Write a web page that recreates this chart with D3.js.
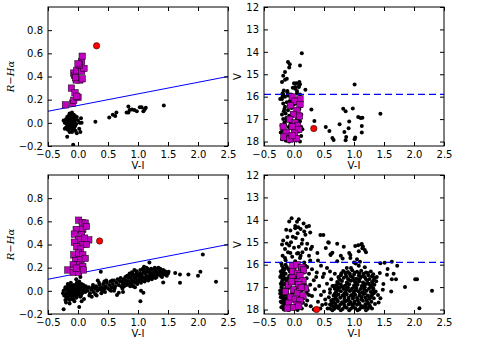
<!DOCTYPE html>
<html>
<head>
<meta charset="utf-8">
<script src="https://cdn.jsdelivr.net/npm/d3@7"></script>
<style>
body { margin: 0; background: #fff; }
svg { display: block; font-family: "DejaVu Sans", sans-serif; }
</style>
</head>
<body>
<svg id="chart" width="479" height="346"></svg>
<script>
// ---------------- data ----------------
const viTicks = [-0.5, 0.0, 0.5, 1.0, 1.5, 2.0, 2.5];
const rhaTicks = [-0.2, 0.0, 0.2, 0.4, 0.6, 0.8];
const vTicks = [12, 13, 14, 15, 16, 17, 18];
const cutLineVI = [-0.5, 2.5];
const cutLineRHA = [0.1, 0.4];
const vLimit = 15.9;

// top row: [V-I, R-Halpha]
const topColourStars = [
  [-0.15,0.0],[-0.12,0.02],[-0.18,0.01],[-0.1,-0.02],[-0.14,-0.04],[-0.2,0.03],[-0.08,0.05],[-0.13,0.06],
  [-0.16,-0.02],[-0.11,0.0],[-0.09,-0.05],[-0.17,-0.06],[-0.12,-0.07],[-0.06,0.01],[-0.05,-0.03],[-0.19,-0.01],
  [-0.14,0.08],[-0.1,0.09],[-0.07,0.07],[-0.22,0.0],[-0.15,0.04],[-0.12,0.04],[-0.08,0.02],[-0.04,0.03],
  [-0.16,0.06],[-0.13,-0.01],[-0.1,-0.08],[-0.06,-0.06],[-0.2,-0.04],[-0.11,0.07],[-0.03,-0.01],[-0.02,0.05],
  [0.0,0.02],[-0.09,0.03],[-0.14,-0.08],[-0.07,-0.03],[-0.17,0.02],[-0.12,-0.04],[-0.05,0.06],[-0.15,-0.05],
  [-0.18,0.05],[-0.1,0.05],[-0.08,-0.01],[0.02,-0.05],[0.03,0.0],[-0.04,-0.07],[-0.13,0.01],[-0.11,-0.03],
  [-0.06,0.04],[-0.16,0.0],[-0.18,-0.12],[-0.08,-0.19],[0.06,0.0],[0.29,0.01],[0.52,0.046],[0.58,0.07],
  [-0.24,0.02],[-0.22,-0.05],[0.05,0.04],[0.04,-0.08],[-0.02,-0.09],
  [0.62,0.06],[0.64,0.09],[0.81,0.09],[0.84,0.14],[0.86,0.11],[0.9,0.115],[0.84,0.09],[0.94,0.11],
  [0.98,0.1],[1.03,0.135],[1.06,0.135],[1.09,0.1],[1.13,0.13],[1.11,0.115],[1.43,0.15]
];
const topColourEm = [
  [-0.21,0.155],[-0.09,0.17],[-0.07,0.195],[-0.11,0.3],[-0.05,0.26],[0.0,0.22],[-0.02,0.23],[-0.07,0.43],
  [-0.06,0.41],[0.03,0.37],[-0.03,0.37],[-0.02,0.45],[0.06,0.445],[0.06,0.53],[0.07,0.575],[0.1,0.47],
  [0.02,0.5],[-0.04,0.39],[0.07,0.38],[0.0,0.51]
];
const topColourTarget = [[0.31, 0.665]];

// top row: [V-I, V]
const topMagStars = [
  [0.13,14.06],[0.1,14.61],[-0.1,14.45],[-0.07,14.55],[-0.08,14.7],[-0.15,14.9],[-0.18,15.07],[-0.12,15.2],
  [-0.15,15.25],[0.0,15.4],[0.04,15.4],[0.09,15.35],[0.02,15.57],[0.08,15.57],[0.19,15.69],[-0.17,15.72],
  [-0.11,15.8],[-0.18,15.9],[-0.23,16.1],[-0.19,15.98],[0.1,15.45],[-0.02,15.6],[0.05,15.75],[-0.2,15.35],
  [-0.2,16.1],[-0.15,16.0],[-0.1,15.95],[-0.05,15.9],[0.05,15.85],[0.1,15.9],[-0.18,16.3],[-0.12,16.25],
  [-0.08,16.4],[0.0,16.35],[0.06,16.3],[-0.16,16.55],[-0.1,16.6],[-0.04,16.5],[0.03,16.6],[0.09,16.55],
  [-0.2,16.8],[-0.14,16.75],[-0.08,16.85],[0.12,16.8],[-0.18,17.0],[-0.12,17.05],[-0.06,17.1],[0.05,17.0],
  [0.1,17.1],[-0.21,17.3],[-0.15,17.25],[-0.09,17.35],[0.03,17.3],[0.12,17.35],[-0.19,17.5],[-0.13,17.55],
  [-0.02,17.45],[0.08,17.55],[0.14,17.45],[-0.17,17.75],[-0.11,17.8],[-0.05,17.7],[0.05,17.8],[0.12,17.75],
  [-0.14,17.95],[-0.08,18.0],[-0.02,17.9],[0.04,17.95],[0.1,18.0],[-0.22,17.6],[-0.16,17.15],[-0.13,16.95],
  [-0.07,16.2],[0.0,16.1],[-0.11,15.75],[0.02,15.65],[0.08,15.55],[-0.19,15.85],[-0.03,16.75],[0.07,16.95],
  [-0.1,17.65],[0.01,17.6],[-0.06,17.25],[-0.15,16.45],[0.11,16.4],[-0.2,17.9],[0.0,17.15],[-0.17,16.65],
  [-0.09,17.95],[0.06,16.1],
  [0.29,16.57],[0.34,17.09],[0.53,17.35],[0.59,17.53],[0.64,17.84],[0.66,17.93],[0.82,16.54],[0.86,16.65],
  [0.98,16.53],[0.92,17.11],[0.76,17.23],[0.91,17.41],[0.84,17.58],[0.87,17.8],[0.86,17.94],[1.01,17.9],
  [1.02,17.82],[1.07,16.91],[1.11,16.95],[1.14,16.94],[1.13,17.31],[1.13,17.6],[1.01,15.46],[1.44,16.76]
];
const topMagEm = [
  [-0.03,16.01],[0.1,16.1],[0.01,16.2],[0.1,16.35],[-0.06,16.39],[0.05,16.61],[-0.01,16.79],[0.09,16.87],
  [-0.07,17.01],[0.02,17.16],[0.06,17.28],[-0.03,17.34],[-0.18,17.34],[0.08,17.46],[-0.13,17.6],[0.01,17.63],
  [-0.17,17.8],[-0.07,17.9],[0.04,17.87],[-0.03,17.73]
];
const topMagTarget = [[0.33, 17.42]];

// bottom row: [V-I, R-Halpha]
const bottomColourStars = [
  [-0.25,-0.02],[-0.22,0.01],[-0.2,-0.05],[-0.18,0.03],[-0.17,-0.01],[-0.16,-0.07],[-0.15,0.05],[-0.14,0.0],
  [-0.13,-0.03],[-0.12,0.02],[-0.11,-0.06],[-0.1,0.04],[-0.09,-0.01],[-0.08,0.01],[-0.07,-0.04],[-0.06,0.03],
  [-0.05,-0.02],[-0.04,0.05],[-0.03,0.0],[-0.02,-0.05],[-0.01,0.02],[0.0,-0.03],[0.01,0.06],[0.02,0.01],
  [0.03,-0.02],[0.04,0.03],[0.05,-0.04],[0.06,0.02],[0.08,0.0],[0.1,0.03],[0.12,-0.01],[0.14,0.02],
  [-0.23,-0.04],[-0.21,0.03],[-0.19,-0.02],[-0.17,0.06],[-0.15,-0.04],[-0.13,0.04],[-0.11,0.01],[-0.09,-0.04],
  [-0.07,0.02],[-0.05,0.0],[-0.03,-0.06],[-0.01,0.04],[0.01,-0.01],[0.03,0.03],[0.05,0.01],[0.07,-0.02],
  [0.09,0.05],[0.11,0.01],[0.13,0.04],[-0.24,0.0],[-0.2,0.02],[-0.16,0.01],[-0.12,-0.02],[-0.08,0.05],
  [-0.04,-0.03],[0.0,0.0],[0.04,-0.05],[0.08,0.04],[-0.18,-0.06],[-0.14,-0.08],[-0.1,-0.07],[-0.06,-0.09],
  [-0.02,0.07],[0.02,0.08],[-0.21,-0.08],[-0.12,0.07],[-0.08,-0.07],[0.0,0.05],[0.06,0.06],[-0.16,0.04],
  [-0.1,0.0],[-0.04,0.02],[0.02,-0.03],[-0.24,-0.16],[0.02,-0.14],[-0.14,-0.11],[-0.2,-0.1],[0.06,-0.09],
  [0.1,-0.07],[-0.03,0.1],[0.04,0.12],
  [0.16,0.0],[0.18,0.03],[0.2,-0.02],[0.22,0.01],[0.24,0.03],[0.26,-0.01],[0.28,0.02],[0.3,0.04],
  [0.32,0.0],[0.34,0.02],[0.36,0.05],[0.38,0.01],[0.4,0.03],[0.42,0.06],[0.44,0.02],[0.46,0.04],
  [0.48,0.07],[0.5,0.02],[0.52,0.05],[0.54,0.08],[0.56,0.03],[0.58,0.06],[0.6,0.09],[0.62,0.04],
  [0.64,0.07],[0.66,0.1],[0.68,0.05],[0.7,0.08],[0.19,-0.04],[0.25,0.05],[0.29,-0.03],[0.35,0.07],
  [0.41,0.0],[0.47,0.09],[0.53,0.01],[0.57,0.09],[0.61,0.02],[0.65,-0.035],[0.68,-0.017],[0.33,0.09],
  [0.38,0.164],[0.44,0.08],[0.23,-0.05],[0.31,-0.04],[0.39,-0.02],[0.55,0.0],[0.45,-0.01],[0.6,0.0],
  [0.72,0.04],[0.73,0.08],[0.71,0.11],[0.75,0.06],[0.76,0.1],[0.74,0.02],[0.78,0.07],[0.79,0.12],
  [0.77,0.04],[0.81,0.05],[0.8,0.09],[0.82,0.13],[0.84,0.08],[0.85,0.13],[0.83,0.06],[0.84,0.11],
  [0.87,0.07],[0.88,0.11],[0.86,0.15],[0.87,0.04],[0.9,0.09],[0.91,0.13],[0.89,0.06],[0.9,0.16],
  [0.93,0.08],[0.94,0.11],[0.92,0.14],[0.92,0.04],[0.96,0.1],[0.97,0.15],[0.95,0.07],[0.96,0.12],
  [0.99,0.09],[1.0,0.13],[0.98,0.17],[0.99,0.06],[1.02,0.11],[1.03,0.15],[1.01,0.08],[1.02,0.13],
  [1.05,0.1],[1.06,0.14],[1.04,0.18],[1.05,0.07],[1.08,0.12],[1.09,0.16],[1.07,0.09],[1.08,0.19],
  [1.11,0.11],[1.12,0.15],[1.1,0.18],[1.11,0.08],[1.14,0.13],[1.15,0.17],[1.13,0.1],[1.14,0.2],
  [1.17,0.12],[1.18,0.16],[1.16,0.19],[1.17,0.09],[1.2,0.14],[1.21,0.18],[1.19,0.11],[1.2,0.16],
  [1.23,0.12],[1.24,0.15],[1.22,0.19],[1.23,0.1],[1.26,0.14],[1.27,0.18],[1.25,0.12],[1.26,0.16],
  [1.29,0.13],[1.3,0.17],[1.28,0.2],[1.29,0.11],[1.32,0.15],[1.33,0.19],[1.31,0.12],[1.35,0.14],
  [1.36,0.17],[1.34,0.2],[1.38,0.13],[1.39,0.16],[1.37,0.19],[1.41,0.15],[1.42,0.18],[1.4,0.12],
  [1.44,0.14],[1.45,0.17],[1.47,0.16],[1.48,0.13],[1.5,0.15],
  [1.19,0.245],[1.1,0.207],[0.94,0.18],[1.04,-0.09],[1.05,0.0],[1.09,-0.017],[0.92,0.04],[1.42,0.072],
  [1.51,0.164],[1.62,0.155],[1.7,0.14],[1.84,0.14],[2.0,0.13],[2.04,0.165],[1.7,0.07],[2.08,0.313],
  [2.3,0.078],[0.75,-0.01],[0.95,0.03]
];
const bottomColourEm = [
  [0.01,0.61],[0.07,0.59],[0.12,0.585],[-0.03,0.53],[0.08,0.53],[0.14,0.556],[-0.06,0.49],[0.06,0.484],
  [0.18,0.44],[0.01,0.44],[0.11,0.455],[-0.06,0.42],[0.07,0.4],[0.14,0.4],[-0.02,0.38],[0.04,0.36],
  [-0.07,0.31],[0.01,0.326],[0.08,0.31],[-0.04,0.26],[0.05,0.268],[0.12,0.28],[0.0,0.225],[0.08,0.21],
  [-0.08,0.225],[-0.17,0.18],[-0.08,0.16],[0.01,0.16],[0.09,0.18],[-0.03,0.196]
];
const bottomColourTarget = [[0.36, 0.43]];

// bottom row: [V-I, V]
const bottomMagStars = [
  [-0.04,13.93],[0.08,13.97],[-0.08,14.07],[0.05,14.09],[0.16,14.16],[0.02,14.27],[0.07,14.33],[0.25,14.27],
  [0.21,14.31],[0.11,14.41],[-0.06,14.47],[0.17,14.52],[-0.13,14.44],[0.27,14.56],[0.02,14.38],[0.19,14.67],
  [-0.18,14.92],[-0.11,14.77],[0.03,14.81],[0.14,14.89],[0.13,15.07],[0.22,15.07],[-0.2,15.1],[-0.05,15.0],
  [0.08,15.2],[-0.15,15.3],[0.0,15.25],[0.2,15.3],[-0.1,15.45],[0.05,15.5],[0.14,15.45],[-0.19,15.6],
  [-0.03,15.65],[0.1,15.7],[0.25,15.6],[-0.14,15.8],[0.02,15.85],[-0.21,15.95],[0.17,15.9],[-0.08,15.15],
  [0.11,15.6],[-0.12,15.05],[0.3,15.2],[0.06,14.6],[-0.02,14.75],[-0.06,15.48],[0.07,15.48],[-0.15,15.7],
  [0.44,14.68],[0.49,14.68],[0.57,15.0],[0.72,15.07],[0.53,15.26],[0.39,15.48],[0.61,15.53],[0.28,15.3],
  [0.4,15.81],[0.78,15.6],[0.92,15.48],[0.94,15.7],[0.27,15.81],[0.72,15.85],[0.58,15.02],[0.83,15.2],
  [0.64,15.47],[0.61,15.57],[0.94,15.57],[0.81,15.72],
  [1.02,15.17],[1.07,15.13],[1.13,15.08],[1.14,15.27],[1.2,15.45],[1.05,15.76],[1.1,15.87],[1.15,15.2],
  [1.18,15.35],[1.08,15.4],[1.12,15.1],[1.0,15.9],
  [-0.22,16.3],[-0.2,16.05],[-0.18,16.5],[-0.16,16.2],[-0.14,16.4],[-0.12,16.1],[-0.1,16.6],[-0.2,16.75],
  [-0.17,16.9],[-0.13,16.7],[-0.21,17.0],[-0.15,17.1],[-0.11,16.95],[-0.19,17.25],[-0.16,17.35],[-0.12,17.2],
  [-0.22,17.45],[-0.18,17.55],[-0.14,17.5],[-0.1,17.4],[-0.2,17.7],[-0.16,17.8],[-0.12,17.65],[-0.08,17.75],
  [-0.21,17.9],[-0.17,18.0],[-0.13,17.95],[-0.09,18.02],[-0.05,17.85],[-0.23,17.15],[-0.19,16.65],[-0.15,16.85],
  [-0.11,17.6],[-0.07,16.3],[-0.05,16.8],[-0.03,17.3],[-0.01,16.45],[0.0,17.95],[0.03,17.05],[0.05,16.55],
  [0.08,17.7],[0.1,16.2],[0.12,17.15],[0.14,16.7],[0.16,17.5],[0.18,16.9],[0.2,17.8],[0.17,16.35],
  [0.13,17.95],[0.06,18.02],[-0.18,16.15],[-0.14,16.0],[-0.09,16.2],[-0.23,16.55],[-0.2,17.35],[-0.16,17.65],
  [-0.12,17.85],[-0.08,16.5],[-0.14,17.25],[-0.1,17.05],[-0.06,17.5],[-0.02,16.1],[0.02,16.65],[0.09,16.4],
  [0.19,16.05],[0.21,17.25],[0.15,17.7],[0.11,17.4],
  [-0.21,16.45],[-0.17,16.35],[-0.22,16.85],[-0.18,17.1],[-0.23,17.3],[-0.19,17.45],[-0.22,17.65],[-0.18,17.85],
  [-0.14,17.75],[-0.1,17.95],[-0.19,16.25],[-0.15,16.6],[-0.13,16.8],[-0.11,17.3],
  [0.22,16.1],[0.3,16.2],[0.45,16.05],[0.55,16.15],[0.25,16.4],[0.38,16.35],[0.6,16.3],[0.68,16.4],
  [0.21,16.6],[0.33,16.7],[0.48,16.55],[0.62,16.65],[0.27,16.9],[0.42,16.95],[0.55,16.85],[0.66,16.95],
  [0.23,17.15],[0.35,17.1],[0.5,17.2],[0.6,17.1],[0.3,17.4],[0.45,17.35],[0.58,17.45],[0.68,17.3],
  [0.22,17.6],[0.4,17.65],[0.52,17.55],[0.63,17.7],[0.28,17.85],[0.47,17.8],[0.56,17.95],[0.66,17.85],
  [0.33,18.0],[0.44,17.95],[0.25,17.35],[0.37,16.55],[0.5,16.4],[0.65,17.55],[0.6,17.95],[0.53,17.75],
  [0.82,16.28],[0.9,16.33],[0.97,16.25],[1.05,16.32],[1.12,16.27],[1.2,16.35],[1.28,16.3],
  [0.78,16.47],[0.86,16.42],[0.94,16.5],[1.0,16.44],[1.08,16.48],[1.16,16.41],[1.24,16.47],[1.32,16.43],
  [0.75,16.62],[0.83,16.58],[0.9,16.64],[0.98,16.57],[1.04,16.63],[1.1,16.6],[1.18,16.56],[1.26,16.64],[1.34,16.59],
  [0.72,16.77],[0.8,16.73],[0.88,16.79],[0.95,16.72],[1.02,16.78],[1.09,16.74],[1.15,16.8],[1.22,16.71],[1.3,16.77],[1.37,16.74],
  [0.7,16.92],[0.78,16.88],[0.85,16.94],[0.92,16.87],[1.0,16.93],[1.06,16.89],[1.13,16.95],[1.2,16.86],[1.27,16.92],[1.34,16.9],
  [0.68,17.07],[0.76,17.03],[0.83,17.08],[0.9,17.02],[0.97,17.06],[1.04,17.04],[1.11,17.09],[1.18,17.01],[1.25,17.07],[1.32,17.05],
  [0.7,17.22],[0.78,17.18],[0.86,17.23],[0.93,17.17],[1.0,17.21],[1.07,17.19],[1.14,17.24],[1.21,17.16],[1.28,17.22],[1.36,17.2],
  [0.66,17.37],[0.74,17.33],[0.81,17.38],[0.88,17.32],[0.95,17.36],[1.02,17.34],[1.09,17.39],[1.16,17.31],[1.23,17.37],[1.3,17.35],
  [0.69,17.52],[0.77,17.48],[0.84,17.53],[0.91,17.47],[0.98,17.51],[1.05,17.49],[1.12,17.54],[1.19,17.46],[1.26,17.52],[1.33,17.5],
  [0.66,17.67],[0.73,17.63],[0.8,17.68],[0.87,17.62],[0.94,17.66],[1.01,17.64],[1.08,17.69],[1.15,17.61],[1.22,17.67],[1.29,17.65],
  [0.7,17.82],[0.77,17.78],[0.84,17.83],[0.91,17.77],[0.98,17.81],[1.05,17.79],[1.12,17.84],[1.19,17.76],[1.26,17.82],
  [0.67,17.97],[0.74,17.93],[0.81,17.98],[0.88,17.92],[0.95,17.96],[1.02,17.94],[1.09,17.99],[1.16,17.91],[1.23,17.97],[1.3,17.95],
  [0.86,16.35],[1.01,16.36],[1.16,16.5],[0.92,16.68],[1.07,16.68],[1.24,16.84],[0.81,17.0],[0.95,17.12],
  [1.1,17.28],[1.25,17.42],[0.85,17.6],[1.0,17.72],[1.15,17.88],[0.75,17.88],[1.35,17.75],[0.62,17.6],
  [0.6,17.25],[0.64,16.95],[1.4,17.35],[1.38,16.55],[0.95,16.15],[1.08,16.05],[1.18,16.12],[1.03,15.95],[0.88,16.15],
  [0.79,16.38],[0.93,16.4],[1.09,16.38],[1.23,16.37],[0.74,16.55],[0.87,16.52],[1.13,16.53],[1.3,16.52],
  [0.77,16.68],[1.0,16.69],[1.2,16.65],[1.33,16.68],[0.74,16.85],[0.89,16.84],[1.04,16.84],[1.17,16.87],
  [1.31,16.85],[0.72,17.0],[0.87,16.98],[1.01,16.99],[1.15,17.0],[1.29,16.99],[0.73,17.13],[0.88,17.12],
  [1.03,17.13],[1.17,17.12],[1.32,17.13],[0.7,17.29],[0.84,17.28],[0.99,17.28],[1.18,17.28],[1.33,17.27],
  [0.7,17.42],[0.84,17.42],[0.99,17.43],[1.13,17.44],[1.28,17.43],[0.72,17.58],[0.91,17.57],[1.06,17.58],
  [1.21,17.58],[0.69,17.74],[0.83,17.73],[0.94,17.74],[1.09,17.74],[1.24,17.74],[0.71,17.9],[0.85,17.89],
  [0.98,17.89],[1.12,17.9],[1.2,17.88],[1.27,17.89],[0.63,17.82],[0.6,17.78],[0.64,18.03],[0.78,18.03],
  [0.92,18.03],[1.06,18.03],[1.2,18.03],
  [1.44,15.94],[1.51,15.91],[1.63,15.87],[1.72,16.05],[1.66,16.41],[1.63,16.65],[1.7,16.65],[2.02,16.65],
  [2.05,16.65],[1.85,17.0],[2.3,17.16],[1.62,17.2],[1.49,16.86],[1.48,17.12],[2.09,17.94],[1.41,17.69],
  [1.44,17.5],[1.43,16.37],[1.56,16.19],[1.55,16.45]
];
const bottomMagEm = [
  [-0.02,16.06],[0.05,16.01],[0.13,16.12],[0.16,16.24],[-0.02,16.31],[0.06,16.38],[0.1,16.5],[-0.03,16.6],
  [0.15,16.71],[0.02,16.76],[-0.09,16.9],[0.08,16.9],[0.19,17.05],[-0.01,17.12],[-0.14,17.2],[0.06,17.27],
  [0.15,17.39],[-0.06,17.45],[0.02,17.54],[0.1,17.6],[-0.09,17.72],[0.05,17.79],[-0.02,17.91],[0.08,17.85],
  [-0.11,17.94],[-0.04,16.76],[0.12,17.02]
];
const bottomMagTarget = [[0.375, 18.0]];

// ---------------- layout ----------------
const svg = d3.select("#chart");
const panelW = 180;
const panelH = 139;
const fmt1 = d3.format(".1f");

const panels = [
  {x0: 48, y0: 7, kind: "colour", stars: topColourStars, em: topColourEm, target: topColourTarget, xlabelY: 169},
  {x0: 264, y0: 7, kind: "mag", stars: topMagStars, em: topMagEm, target: topMagTarget, xlabelY: 169},
  {x0: 48, y0: 175, kind: "colour", stars: bottomColourStars, em: bottomColourEm, target: bottomColourTarget, xlabelY: 337},
  {x0: 264, y0: 175, kind: "mag", stars: bottomMagStars, em: bottomMagEm, target: bottomMagTarget, xlabelY: 337}
];

panels.forEach((p, i) => drawPanel(p, i));

function drawPanel(p, i){
  const x = d3.scaleLinear().domain([-0.5, 2.5]).range([p.x0, p.x0 + panelW]);
  const y = p.kind === "colour"
    ? d3.scaleLinear().domain([-0.2, 1.0]).range([p.y0 + panelH, p.y0])
    : d3.scaleLinear().domain([12, 18.2]).range([p.y0, p.y0 + panelH]);
  const yTicks = p.kind === "colour" ? rhaTicks : vTicks;
  const yFmt = p.kind === "colour" ? fmt1 : d3.format("d");

  const g = svg.append("g");
  svg.append("clipPath").attr("id", "clip" + i)
    .append("rect").attr("x", p.x0).attr("y", p.y0).attr("width", panelW).attr("height", panelH);
  const plot = g.append("g").attr("clip-path", `url(#clip${i})`);

  // stars
  plot.selectAll("circle.star").data(p.stars).join("circle")
    .attr("class", "star")
    .attr("cx", d => x(d[0]))
    .attr("cy", d => y(d[1]))
    .attr("r", 2)
    .attr("fill", "#000");

  // separation lines
  if(p.kind === "colour"){
    plot.append("line")
      .attr("x1", x(cutLineVI[0])).attr("y1", y(cutLineRHA[0]))
      .attr("x2", x(cutLineVI[1])).attr("y2", y(cutLineRHA[1]))
      .attr("stroke", "#0000ff").attr("stroke-width", 1);
  } else {
    plot.append("line")
      .attr("x1", x(-0.5)).attr("x2", x(2.5))
      .attr("y1", y(vLimit)).attr("y2", y(vLimit))
      .attr("stroke", "#0000ff").attr("stroke-width", 1.2)
      .attr("stroke-dasharray", "7,4");
  }

  // emission-line candidates
  const s = 6.4;
  plot.selectAll("rect.em").data(p.em).join("rect")
    .attr("class", "em")
    .attr("x", d => x(d[0]) - s / 2)
    .attr("y", d => y(d[1]) - s / 2)
    .attr("width", s).attr("height", s)
    .attr("fill", "#bf00bf")
    .attr("stroke", "#000").attr("stroke-width", 0.5);

  plot.selectAll("circle.target").data(p.target).join("circle")
    .attr("class", "target")
    .attr("cx", d => x(d[0]))
    .attr("cy", d => y(d[1]))
    .attr("r", 3.2)
    .attr("fill", "#ff0000")
    .attr("stroke", "#000").attr("stroke-width", 0.5);

  // axes, ticks inside on all four sides
  const styleAxis = a => {
    a.select(".domain").remove();
    a.attr("font-family", "DejaVu Sans, sans-serif").attr("font-size", 10);
    a.selectAll("text").attr("fill", "#000");
    a.selectAll("line").attr("stroke", "#000");
  };
  g.append("g").attr("transform", `translate(0,${p.y0 + panelH})`)
    .call(d3.axisBottom(x).tickValues(viTicks).tickSize(-4).tickPadding(5).tickFormat(fmt1))
    .call(styleAxis);
  g.append("g").attr("transform", `translate(0,${p.y0})`)
    .call(d3.axisTop(x).tickValues(viTicks).tickSize(-4).tickFormat(""))
    .call(styleAxis);
  g.append("g").attr("transform", `translate(${p.x0},0)`)
    .call(d3.axisLeft(y).tickValues(yTicks).tickSize(-4).tickPadding(5).tickFormat(yFmt))
    .call(styleAxis);
  g.append("g").attr("transform", `translate(${p.x0 + panelW},0)`)
    .call(d3.axisRight(y).tickValues(yTicks).tickSize(-4).tickFormat(""))
    .call(styleAxis);

  g.append("rect")
    .attr("x", p.x0).attr("y", p.y0)
    .attr("width", panelW).attr("height", panelH)
    .attr("fill", "none").attr("stroke", "#000").attr("stroke-width", 1);

  // labels
  g.append("text")
    .attr("x", p.x0 + panelW / 2).attr("y", p.xlabelY)
    .attr("text-anchor", "middle")
    .attr("font-size", 10)
    .text("V-I");

  const cy = p.y0 + panelH / 2;
  if(p.kind === "colour"){
    g.append("text")
      .attr("transform", `translate(${p.x0 - 34},${cy}) rotate(-90)`)
      .attr("text-anchor", "middle")
      .attr("font-family", "DejaVu Serif, serif")
      .attr("font-style", "italic")
      .attr("font-size", 10)
      .text("R\u2212H\u03b1");
  } else {
    g.append("text")
      .attr("transform", `translate(${p.x0 - 23},${cy}) rotate(-90)`)
      .attr("text-anchor", "middle")
      .attr("font-size", 10)
      .text("V");
  }
}
</script>
</body>
</html>
